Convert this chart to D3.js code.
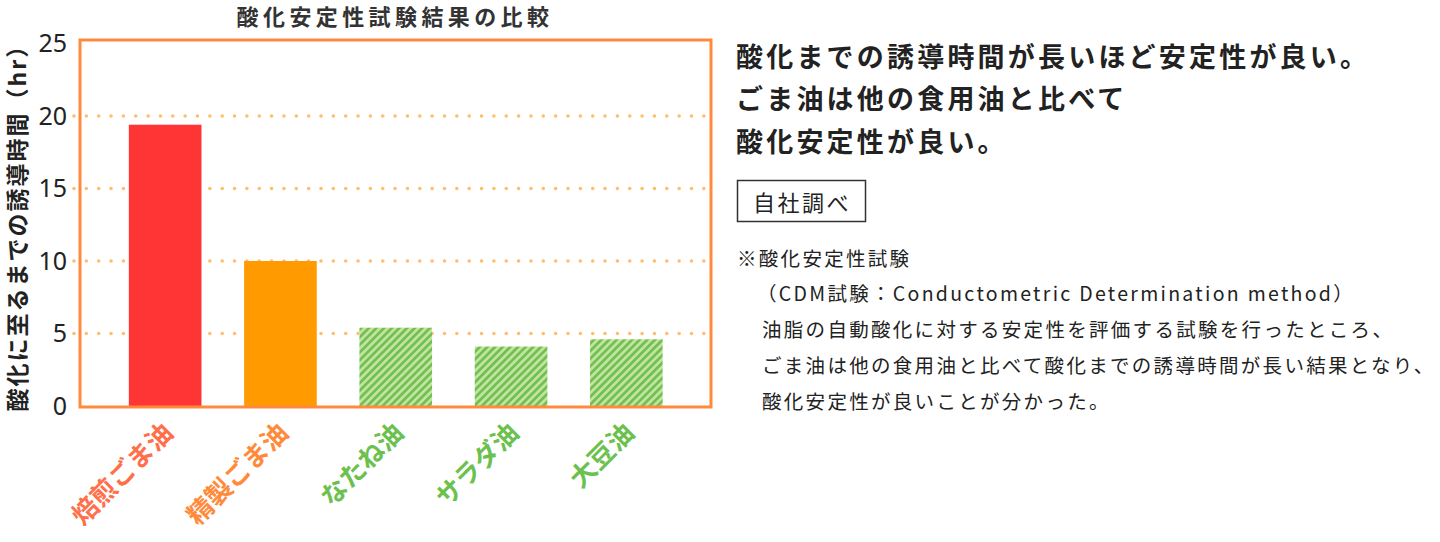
<!DOCTYPE html>
<html>
<head>
<meta charset="utf-8">
<script src="https://cdn.jsdelivr.net/npm/d3@7"></script>
<style>
  body { margin: 0; background: #fff; }
  svg { display: block; font-family: "Noto Sans CJK JP", "Noto Sans", sans-serif; }
</style>
</head>
<body>
<svg id="chart" width="1440" height="542"></svg>
<script>
// data
const categories = ["焙煎ごま油", "精製ごま油", "なたね油", "サラダ油", "大豆油"];
const hours = [19.4, 10.0, 5.4, 4.1, 4.6];
const yTicks = [0, 5, 10, 15, 20, 25];
const gridValues = [5, 10, 15, 20];

const chartTitle = "酸化安定性試験結果の比較";
const yTitle = "酸化に至るまでの誘導時間（hr）";
const headline = [
  "酸化までの誘導時間が長いほど安定性が良い。",
  "ごま油は他の食用油と比べて",
  "酸化安定性が良い。"
];
const sourceTag = "自社調べ";
const notes = [
  "※酸化安定性試験",
  "（CDM試験：Conductometric Determination method）",
  "油脂の自動酸化に対する安定性を評価する試験を行ったところ、",
  "ごま油は他の食用油と比べて酸化までの誘導時間が長い結果となり、",
  "酸化安定性が良いことが分かった。"
];

// styles
const barFill = ["#ff3535", "#ff9a00", "url(#hatch)", "url(#hatch)", "url(#hatch)"];
const labelColor = ["#ff6f4a", "#ff8a3a", "#6cc14e", "#6cc14e", "#6cc14e"];
const frameColor = "#ff8a3d";

const svg = d3.select("#chart");

// hatch for the other oils
const pat = svg.append("defs").append("pattern")
  .attr("id", "hatch")
  .attr("patternUnits", "userSpaceOnUse")
  .attr("width", 5.4).attr("height", 10)
  .attr("patternTransform", "rotate(45)");
pat.append("rect").attr("width", 5.4).attr("height", 10).attr("fill", "#c4e2a2");
pat.append("rect").attr("width", 2.7).attr("height", 10).attr("fill", "#70c250");

const frame = { left: 80, right: 711, top: 40, bottom: 407 };

const x = d3.scaleBand()
  .domain(categories)
  .range([107.5, 684])
  .paddingInner(0.37)
  .paddingOuter(0.185);

const y = d3.scaleLinear()
  .domain([0, 25])
  .range([406, 43.5]);

// dotted grid lines (drawn under the bars)
svg.append("g")
  .selectAll("line")
  .data(gridValues)
  .join("line")
  .attr("x1", 74)
  .attr("x2", 709)
  .attr("y1", d => y(d))
  .attr("y2", d => y(d))
  .attr("stroke", "#ffbd70")
  .attr("stroke-width", 3.6)
  .attr("stroke-linecap", "round")
  .attr("stroke-dasharray", "0 12.35");

// bars
svg.append("g")
  .selectAll("rect")
  .data(hours)
  .join("rect")
  .attr("x", (d, i) => x(categories[i]))
  .attr("y", d => y(d))
  .attr("width", x.bandwidth())
  .attr("height", d => y(0) - y(d))
  .attr("fill", (d, i) => barFill[i]);

// orange frame
svg.append("rect")
  .attr("x", frame.left)
  .attr("y", frame.top)
  .attr("width", frame.right - frame.left)
  .attr("height", frame.bottom - frame.top)
  .attr("fill", "none")
  .attr("stroke", frameColor)
  .attr("stroke-width", 3);

// y axis numbers
const yAxis = svg.append("g")
  .attr("transform", "translate(67,0)")
  .call(d3.axisLeft(y).tickValues(yTicks).tickSize(0).tickPadding(0));
yAxis.select(".domain").remove();
yAxis.selectAll("text")
  .attr("font-family", "'Noto Sans', sans-serif")
  .attr("font-size", 25)
  .attr("fill", "#222");

// y axis title
svg.append("text")
  .attr("transform", "translate(16,222) rotate(-90)")
  .attr("text-anchor", "middle")
  .attr("dominant-baseline", "central")
  .attr("font-size", 23)
  .attr("font-weight", 700)
  .attr("letter-spacing", 2)
  .attr("fill", "#222")
  .text(yTitle);

// chart title
svg.append("text")
  .attr("x", 395)
  .attr("y", 15)
  .attr("text-anchor", "middle")
  .attr("dominant-baseline", "central")
  .attr("font-size", 22)
  .attr("font-weight", 700)
  .attr("letter-spacing", 4.4)
  .attr("fill", "#333")
  .text(chartTitle);

// rotated category labels
svg.append("g")
  .selectAll("text")
  .data(categories)
  .join("text")
  .attr("transform", d => `translate(${x(d) + x.bandwidth() / 2 + 3},${428}) rotate(-45)`)
  .attr("text-anchor", "end")
  .attr("dy", "0.35em")
  .attr("font-size", 26)
  .attr("font-weight", 700)
  .attr("fill", (d, i) => labelColor[i])
  .text(d => d);

// headline on the right
svg.append("g")
  .selectAll("text")
  .data(headline)
  .join("text")
  .attr("x", 736)
  .attr("y", (d, i) => 55 + i * 42.5)
  .attr("dominant-baseline", "central")
  .attr("font-size", 27)
  .attr("font-weight", 700)
  .attr("letter-spacing", 3.2)
  .attr("fill", "#222")
  .text(d => d);

// source box
svg.append("rect")
  .attr("x", 737.5).attr("y", 180.5)
  .attr("width", 128).attr("height", 41)
  .attr("fill", "none")
  .attr("stroke", "#333")
  .attr("stroke-width", 1.5);
svg.append("text")
  .attr("x", 802)
  .attr("y", 201)
  .attr("text-anchor", "middle")
  .attr("dominant-baseline", "central")
  .attr("font-size", 22)
  .attr("letter-spacing", 2.5)
  .attr("fill", "#222")
  .text(sourceTag);

// notes
svg.append("g")
  .selectAll("text")
  .data(notes)
  .join("text")
  .attr("x", (d, i) => i === 0 ? 737 : (i === 1 ? 757 : 762))
  .attr("y", (d, i) => 257 + i * 35.8)
  .attr("dominant-baseline", "central")
  .attr("font-size", 19.5)
  .attr("letter-spacing", 2.3)
  .attr("fill", "#222")
  .text(d => d);
</script>
</body>
</html>
